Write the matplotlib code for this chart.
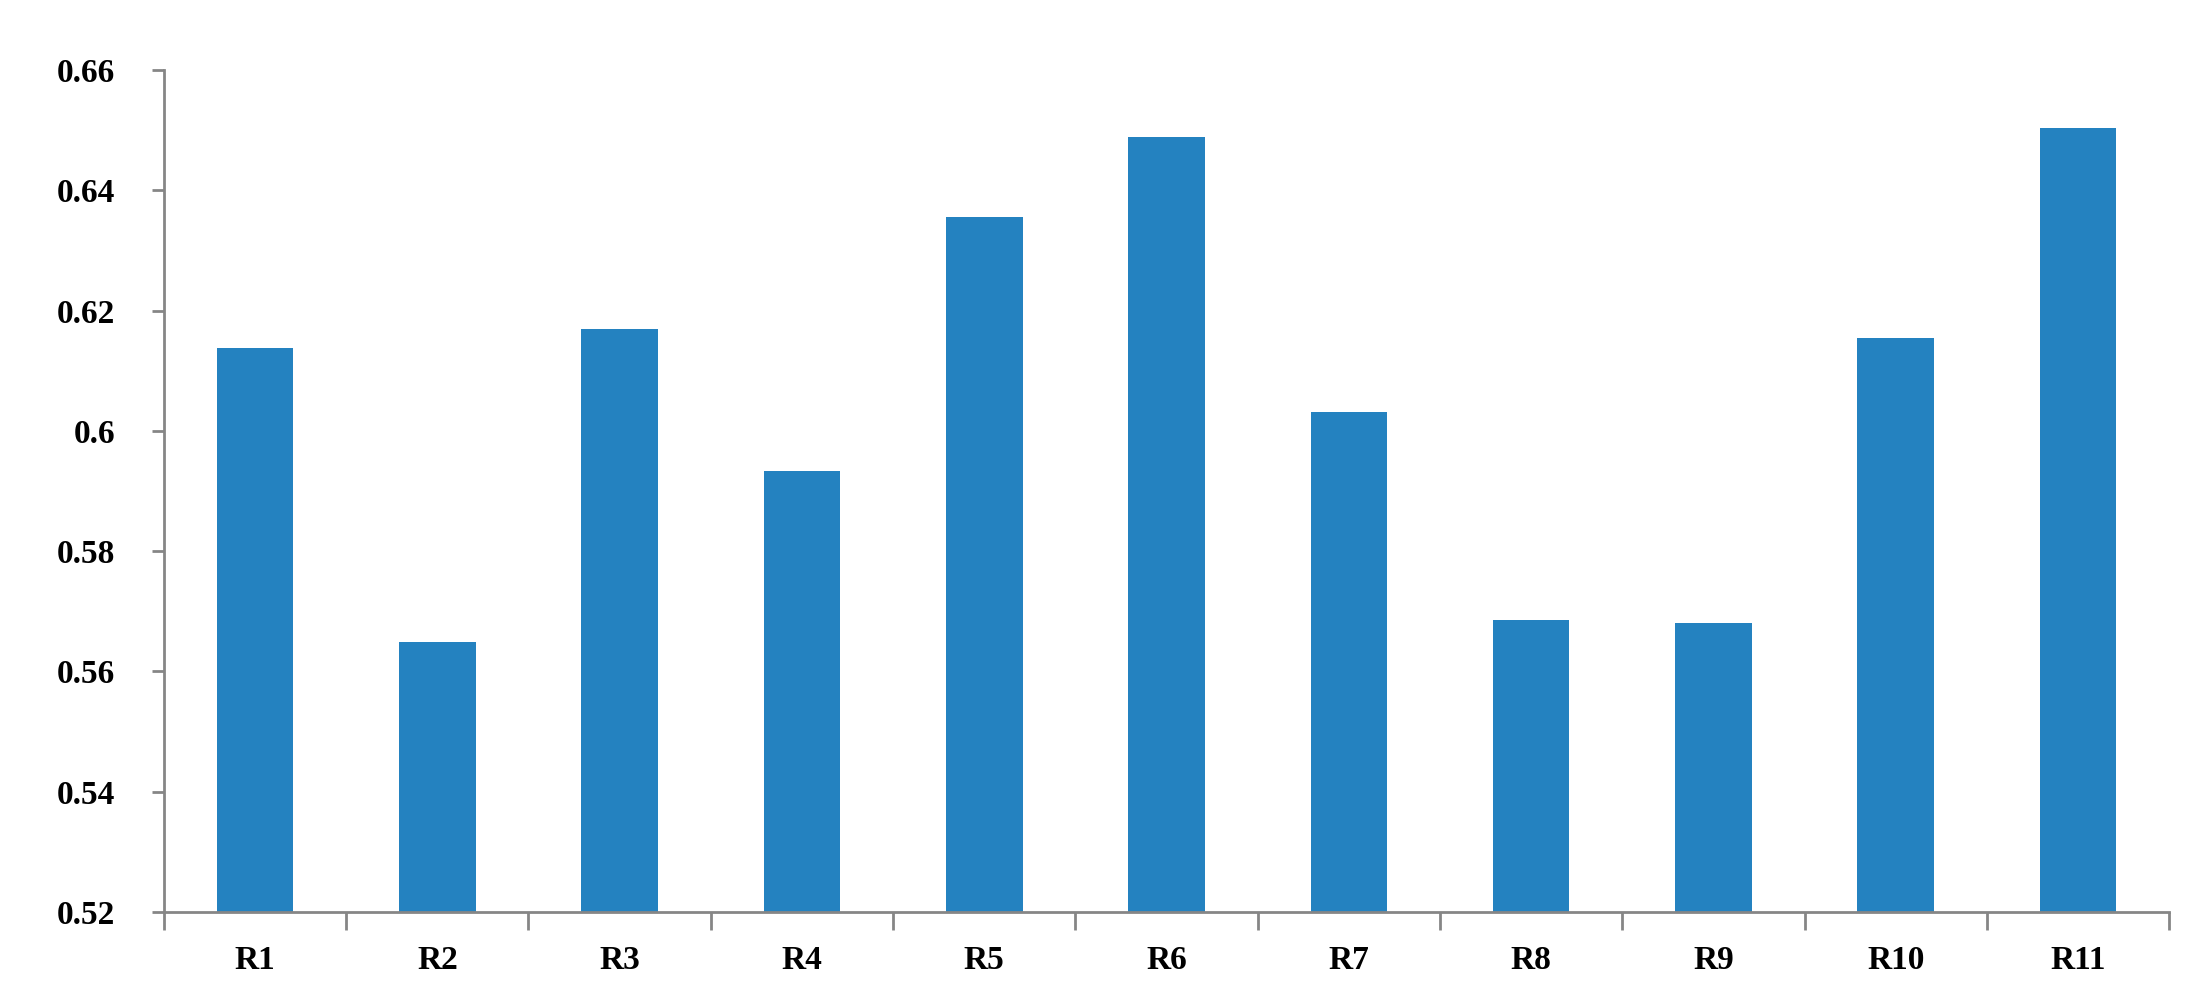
import numpy as np
import matplotlib
matplotlib.use('Agg')
import matplotlib.pyplot as plt

labels = ['R1', 'R2', 'R3', 'R4', 'R5', 'R6', 'R7', 'R8', 'R9', 'R10', 'R11']
values = [0.6138, 0.5649, 0.6170, 0.5933, 0.6355, 0.6489, 0.6031, 0.5685, 0.5680, 0.6154, 0.6504]
yticks = [0.52, 0.54, 0.56, 0.58, 0.6, 0.62, 0.64, 0.66]
ytick_labels = ['0.52', '0.54', '0.56', '0.58', '0.6', '0.62', '0.64', '0.66']

plt.rcParams['font.family'] = ['Liberation Serif', 'DejaVu Serif']
plt.rcParams['font.weight'] = 'bold'

axis_color = '#868686'

fig = plt.figure(figsize=(21.94, 10), dpi=100)
ax = fig.add_axes([0.0747, 0.088, 0.914, 0.842])

x = np.arange(len(labels))
ax.bar(x, values, width=0.42, color='#2482C0', zorder=2)

ax.set_xlim(-0.5, len(labels) - 0.5)
ax.set_ylim(0.52, 0.66)

ax.set_yticks(yticks)
ax.set_yticklabels(ytick_labels, fontsize=24, fontweight='bold')

# ticks between categories, labels at centres
ax.set_xticks(np.arange(len(labels) + 1) - 0.5)
ax.set_xticklabels([])
ax.set_xticks(x, minor=True)
ax.set_xticklabels(labels, minor=True, fontsize=24, fontweight='bold')
ax.tick_params(axis='x', which='major', length=13, width=2, color=axis_color, direction='out')
ax.tick_params(axis='x', which='minor', length=0, pad=24)
ax.tick_params(axis='y', length=9, width=2, color=axis_color, direction='out', pad=26)

for s in ['top', 'right']:
    ax.spines[s].set_visible(False)
for s in ['left', 'bottom']:
    ax.spines[s].set_color(axis_color)
    ax.spines[s].set_linewidth(2)

fig.savefig('out.png', dpi=100, facecolor='white')
